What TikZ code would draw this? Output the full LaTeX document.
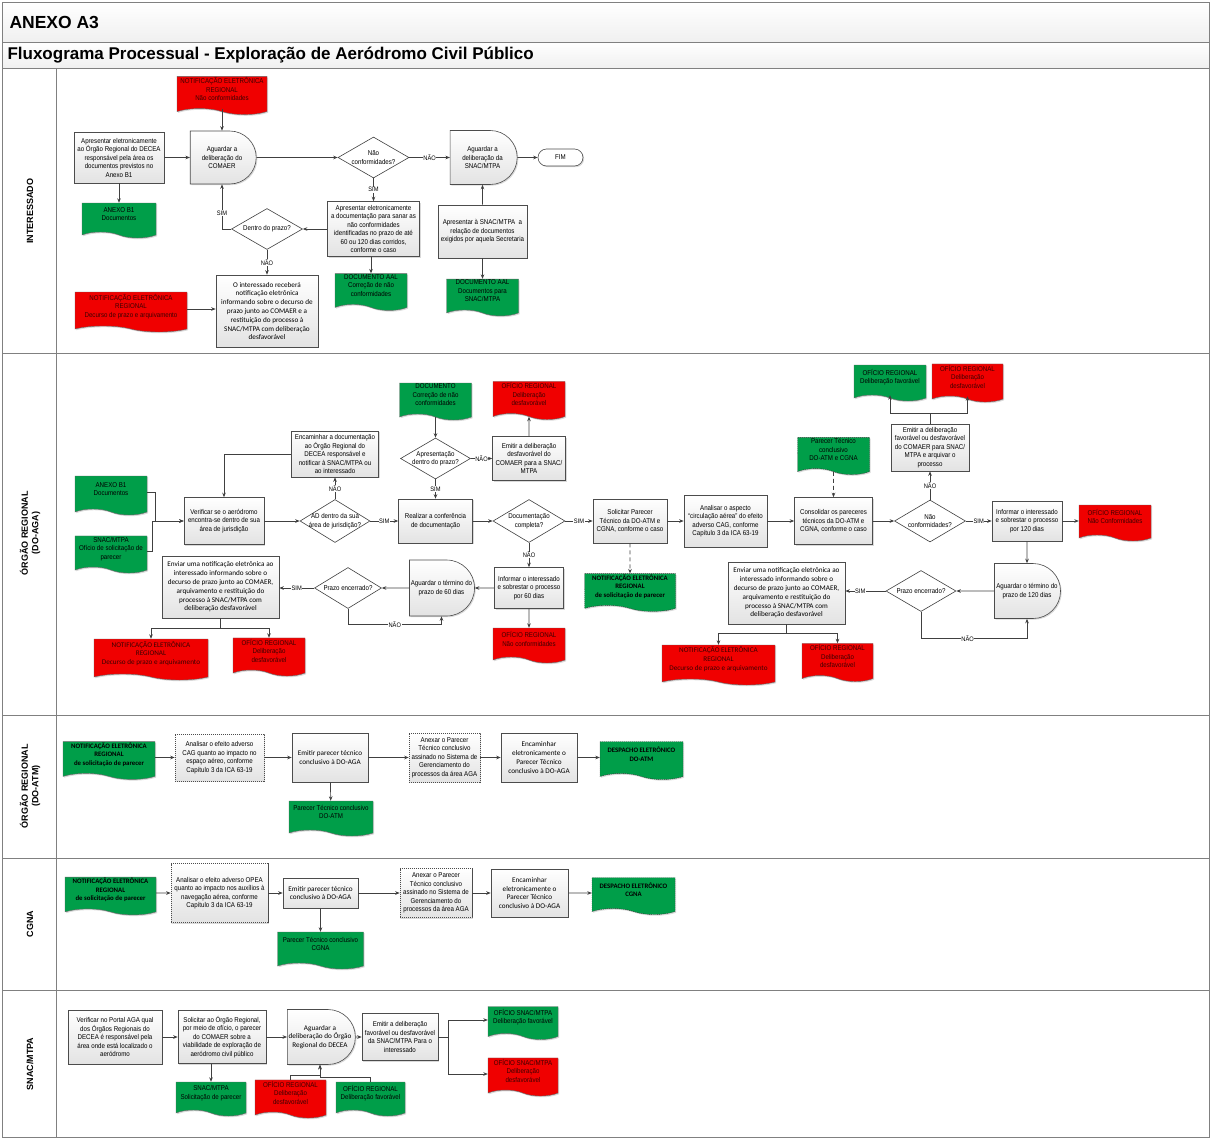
\documentclass[tikz,border=0pt]{standalone}
\usepackage{fontspec}
\setmainfont{Liberation Sans}[FakeStretch=0.88]
\newfontfamily\headfont{Liberation Sans}
\newfontfamily\calfont{Carlito}
\usetikzlibrary{arrows.meta, positioning, shapes.geometric, shapes.misc, shapes.symbols, shadows}

\definecolor{aalred}{RGB}{240,0,0}
\definecolor{aalgreen}{RGB}{0,158,73}
\definecolor{redtext}{RGB}{60,0,0}
\definecolor{linegray}{RGB}{64,64,64}
\definecolor{framegray}{RGB}{128,128,128}

\begin{document}
\begin{tikzpicture}[
    x=1pt, y=-1pt,
    >={Stealth[length=4.5pt, width=3.6pt]},
    sz/.style 2 args={minimum width=#1pt, minimum height=#2pt},
    txt/.style={font=\fontsize{7}{8.5}\selectfont, align=center, inner sep=1pt},
    cal/.style={font=\calfont\fontsize{7.2}{8.8}\selectfont},
    calb/.style={font=\calfont\bfseries\fontsize{6.8}{8.6}\selectfont},
    process/.style={txt, rectangle, draw=black!70, line width=0.6pt, top color=white, bottom color=gray!22,
      drop shadow={shadow xshift=1.2pt, shadow yshift=-1.2pt, opacity=.3}},
    processd/.style={process, dash pattern=on 1.2pt off 0.8pt},
    delay/.style={process, rounded rectangle, rounded rectangle left arc=none},
    terminal/.style={process, rounded rectangle, top color=white, bottom color=white},
    docshape/.style={txt, tape, tape bend top=none, tape bend bottom=out and in, tape bend height=6pt,
      text depth=7pt, draw=black!60, line width=0.4pt,
      drop shadow={shadow xshift=1.2pt, shadow yshift=-1.2pt, opacity=.3}},
    redoc/.style={docshape, fill=aalred, text=redtext},
    greendoc/.style={docshape, fill=aalgreen, text=black},
    greendocd/.style={greendoc, draw=black!80, dash pattern=on 1.2pt off 0.8pt},
    decision/.style={diamond, draw=black!75, line width=0.6pt, fill=white, inner sep=0pt},
    dtext/.style={txt, inner sep=0pt},
    flow/.style={->, draw=linegray, line width=0.7pt},
    yn/.style={font=\fontsize{6.5}{7}\selectfont, fill=white, inner sep=0.6pt},
    lane/.style={font=\headfont\bfseries\fontsize{9}{10.5}\selectfont, rotate=90, align=center},
    frame/.style={draw=framegray, line width=1pt}
  ]
  \useasboundingbox (0,0) rectangle (1211,1138);

  % Frame and lanes
  \fill[top color=white, bottom color=gray!12] (2,2) rectangle (1209,42);
  \fill[top color=white, bottom color=gray!12] (2,42) rectangle (1209,68);
  \draw[frame] (2,2) rectangle (1209,1137);
  \foreach \yy in {42,68,353,715,858,990}
    \draw[frame] (2,\yy) -- (1209,\yy);
  \draw[frame] (56,68) -- (56,1137);
  \node[anchor=west, font=\headfont\bfseries\fontsize{17.5}{19}\selectfont] (anexo) at (6,22) {ANEXO A3};
  \node[anchor=west, font=\headfont\bfseries\fontsize{17}{19}\selectfont] (titulo) at (4,55)
    {Fluxograma Processual - Exploração de Aeródromo Civil Público};
  \node[lane] (lane1) at (30,211) {INTERESSADO};
  \node[lane] (lane2) at (30,533) {ÓRGÃO REGIONAL\\(DO-AGA)};
  \node[lane] (lane3) at (30,786) {ÓRGÃO REGIONAL\\(DO-ATM)};
  \node[lane] (lane4) at (30,924) {CGNA};
  \node[lane] (lane5) at (30,1064) {SNAC/MTPA};

  % Interessado
  \node[redoc, sz={90}{35}] (a1notif) at (222,92.5) {NOTIFICAÇÃO ELETRÔNICA\\REGIONAL\\Não conformidades};
  \node[process, sz={90}{51}] (a1apres) at (119,157.5) {Apresentar eletronicamente\\ao Órgão Regional do DECEA\\responsável pela área os\\documentos previstos no\\Anexo B1};
  \node[delay, sz={68}{53}] (a1aguard) at (222,157.5) {Aguardar a\\deliberação do\\COMAER};
  \node[greendoc, sz={74}{35}] (a1anexo) at (119,217.5) {ANEXO B1\\Documentos};
  \node[decision, sz={71}{41}, label={[dtext]center:Dentro do prazo?}] (a1prazo) at (267,229) {};
  \node[process, cal, sz={102}{72}] (a1recebe) at (267,311) {O interessado receberá\\notificação eletrônica\\informando sobre o decurso de\\prazo junto ao COMAER e a\\restituição do processo à\\SNAC/MTPA com deliberação\\desfavorável};
  \node[redoc, sz={112}{40}] (a1decurso) at (131,309) {NOTIFICAÇÃO ELETRÔNICA\\REGIONAL\\Decurso de prazo e arquivamento};
  \node[decision, sz={71}{41}, label={[dtext]center:{Não\\conformidades?}}] (a1naoconf) at (373.5,157.5) {};
  \node[delay, sz={69}{54}] (a1aguardsnac) at (482.5,157.5) {Aguardar a\\deliberação da\\SNAC/MTPA};
  \node[terminal, sz={47}{17}] (a1fim) at (560.5,157.5) {FIM};
  \node[process, sz={92}{55}] (a1sanar) at (373.5,229) {Apresentar eletronicamente\\a documentação para sanar as\\não conformidades\\identificadas no prazo de até\\60 ou 120 dias corridos,\\conforme o caso};
  \node[greendoc, sz={72}{34}] (a1correc) at (371,289) {DOCUMENTO AAL\\Correção de não\\conformidades};
  \node[process, sz={89}{53}] (a1relacao) at (482.5,231.5) {Apresentar à SNAC/MTPA\ \ a\\relação de documentos\\exigidos por aquela Secretaria};
  \node[greendoc, sz={72}{35}] (a1docsnac) at (482.5,294.5) {DOCUMENTO AAL\\Documentos para\\SNAC/MTPA};

  \draw[flow] (a1notif.south) -- (a1aguard.north);
  \draw[flow] (a1apres) -- (a1aguard);
  \draw[flow] (a1apres) -- (a1anexo);
  \draw[flow] (a1aguard) -- (a1naoconf);
  \draw[flow] (a1naoconf) -- node[yn]{NÃO} (a1aguardsnac);
  \draw[flow] (a1aguardsnac) -- (a1fim);
  \draw[flow] (a1naoconf) -- node[yn]{SIM} (a1sanar);
  \draw[flow] (a1sanar) -- (a1prazo);
  \draw[flow] (a1correc.north |- a1sanar.south) -- (a1correc.north);
  \draw[flow] (a1prazo.west) -| node[yn, pos=.68]{SIM} (a1aguard.south);
  \draw[flow] (a1prazo) -- node[yn]{NÃO} (a1recebe);
  \draw[flow] (a1decurso.east) -- (a1decurso.east -| a1recebe.west);
  \draw[flow] (a1relacao) -- (a1aguardsnac);
  \draw[flow] (a1relacao) -- (a1docsnac);

  % Orgao Regional DO-AGA
  \node[greendoc, sz={72}{39}] (b2anexo) at (111,492.5) {ANEXO B1\\Documentos};
  \node[greendoc, sz={72}{37}] (b2snac) at (111,551.5) {SNAC/MTPA\\Ofício de solicitação de\\parecer};
  \node[process, sz={80}{47}] (b2verif) at (224,521) {Verificar se o aeródromo\\encontra-se dentro de sua\\área de jurisdição};
  \node[process, sz={87}{46}] (b2encam) at (335,454) {Encaminhar a documentação\\ao Órgão Regional do\\DECEA responsável e\\notificar à SNAC/MTPA ou\\ao interessado};
  \node[decision, sz={70}{43}, label={[dtext]center:{AD dentro da sua\\área de jurisdição?}}] (b2ad) at (335,521) {};
  \node[process, sz={74}{44}] (b2realiz) at (435.5,521) {Realizar a conferência\\de documentação};
  \node[greendoc, sz={72}{37}] (b2docum) at (435.5,398.5) {DOCUMENTO\\Correção de não\\conformidades};
  \node[decision, sz={70}{41}, label={[dtext]center:{Apresentação\\dentro do prazo?}}] (b2apres) at (435.5,458.5) {};
  \node[process, sz={73}{44}] (b2emitir) at (529,458.5) {Emitir a deliberação\\desfavorável do\\COMAER para a SNAC/\\MTPA};
  \node[redoc, sz={72}{35}] (b2ofdesf) at (529,397.5) {OFÍCIO REGIONAL\\Deliberação\\desfavorável};
  \node[decision, sz={72}{43}, label={[dtext]center:{Documentação\\completa?}}] (b2complet) at (529,521) {};
  \node[process, sz={69}{41}] (b2inf60) at (529,588) {Informar o interessado\\e sobrestar o processo\\por 60 dias};
  \node[redoc, sz={72}{35}] (b2ofnao) at (529,642.5) {OFÍCIO REGIONAL\\Não conformidades};
  \node[delay, sz={67}{56}] (b2ag60) at (441.5,588) {Aguardar o término do\\prazo de 60 dias};
  \node[decision, sz={67}{41}, label={[dtext]center:Prazo encerrado?}] (b2prazo) at (348,588) {};
  \node[process, cal, sz={117}{62}] (b2enviar) at (220.5,587) {Enviar uma notificação eletrônica ao\\interessado informando sobre o\\decurso de prazo junto ao COMAER,\\arquivamento e restituição do\\processo à SNAC/MTPA com\\deliberação desfavorável};
  \node[redoc, cal, sz={114}{41}] (b2notdec) at (151,656.5) {NOTIFICAÇÃO ELETRÔNICA\\REGIONAL\\Decurso de prazo e arquivamento};
  \node[redoc, sz={72}{36}] (b2ofdesf2) at (269,654) {OFÍCIO REGIONAL\\Deliberação\\desfavorável};
  \node[process, sz={74}{44}] (b2solic) at (630,521) {Solicitar Parecer\\Técnico da DO-ATM e\\CGNA, conforme o caso};
  \node[greendocd, calb, sz={91}{35}] (b2notsol) at (630,589.5) {NOTIFICAÇÃO ELETRÔNICA\\REGIONAL\\de solicitação de parecer};
  \node[process, sz={83}{52}] (b2analis) at (725.5,521) {Analisar o aspecto\\“circulação aérea” do efeito\\adverso CAG, conforme\\Capítulo 3 da ICA 63-19};
  \node[process, sz={78}{47}] (b2consol) at (833.5,521) {Consolidar os pareceres\\técnicos da DO-ATM e\\CGNA, conforme o caso};
  \node[process, cal, sz={117}{62}] (b2enviar2) at (786.5,593) {Enviar uma notificação eletrônica ao\\interessado informando sobre o\\decurso de prazo junto ao COMAER,\\arquivamento e restituição do\\processo à SNAC/MTPA com\\deliberação desfavorável};
  \node[redoc, cal, sz={113}{40}] (b2notdec2) at (718.5,662) {NOTIFICAÇÃO ELETRÔNICA\\REGIONAL\\Decurso de prazo e arquivamento};
  \node[redoc, sz={71}{35}] (b2ofdesf3) at (837.5,659.5) {OFÍCIO REGIONAL\\Deliberação\\desfavorável};
  \node[greendoc, sz={72}{36}] (b2offav) at (890,380) {OFÍCIO REGIONAL\\Deliberação favorável};
  \node[redoc, sz={71}{36}] (b2ofdesf4) at (967.5,380) {OFÍCIO REGIONAL\\Deliberação\\desfavorável};
  \node[process, sz={78}{47}] (b2emitfav) at (930,447.5) {Emitir a deliberação\\favorável ou desfavorável\\do COMAER para SNAC/\\MTPA e arquivar o\\processo};
  \node[greendocd, sz={72}{34}] (b2parecer) at (833.5,453) {Parecer Técnico\\conclusivo\\DO-ATM e CGNA};
  \node[decision, sz={71}{42}, label={[dtext]center:{Não\\conformidades?}}] (b2naoconf) at (930,521) {};
  \node[process, sz={70}{40}] (b2inf120) at (1027,521) {Informar o interessado\\e sobrestar o processo\\por 120 dias};
  \node[redoc, sz={72}{36}] (b2ofnao2) at (1115,520) {OFÍCIO REGIONAL\\Não Conformidades};
  \node[delay, sz={68}{55}] (b2ag120) at (1027,591) {Aguardar o término do\\prazo de 120 dias};
  \node[decision, sz={70}{41}, label={[dtext]center:Prazo encerrado?}] (b2prazo2) at (921,591) {};

  \draw[flow] (b2anexo.east) -- ++(8,0) |- (b2verif.west);
  \draw[flow] (b2snac.east) -- ++(5,0) |- (b2verif.west);
  \draw[flow] (b2verif) -- (b2ad);
  \draw[flow] (b2ad) -- node[yn]{NÃO} (b2encam);
  \draw[flow] (b2encam.west) -| (b2verif.north);
  \draw[flow] (b2ad) -- node[yn]{SIM} (b2realiz);
  \draw[flow] (b2docum) -- (b2apres);
  \draw[flow] (b2apres) -- node[yn]{SIM} (b2realiz);
  \draw[flow] (b2apres) -- node[yn]{NÃO} (b2emitir);
  \draw[flow] (b2emitir) -- (b2ofdesf);
  \draw[flow] (b2realiz) -- (b2complet);
  \draw[flow] (b2complet) -- node[yn]{SIM} (b2solic);
  \draw[flow] (b2complet) -- node[yn]{NÃO} (b2inf60);
  \draw[flow] (b2inf60) -- (b2ofnao);
  \draw[flow] (b2inf60) -- (b2ag60);
  \draw[flow] (b2ag60) -- (b2prazo);
  \draw[flow] (b2prazo.west) -- node[yn]{SIM} (b2prazo.west -| b2enviar.east);
  \draw[flow] (b2prazo.south) -- ++(0,16) -| node[yn, pos=.25]{NÃO} (b2ag60.south);
  \draw[flow] (b2enviar.south) -- ++(0,10) -| (b2notdec.north);
  \draw[flow] (b2enviar.south) -- ++(0,10) -| (b2ofdesf2.north);
  \draw[flow, dash pattern=on 4pt off 3pt] (b2solic) -- (b2notsol);
  \draw[flow] (b2solic) -- (b2analis);
  \draw[flow] (b2analis) -- (b2consol);
  \draw[flow, dash pattern=on 4pt off 3pt] (b2parecer) -- (b2consol);
  \draw[flow] (b2consol) -- (b2naoconf);
  \draw[flow] (b2naoconf) -- node[yn]{NÃO} (b2emitfav);
  \draw[flow] (b2emitfav.north) -- ++(0,-10) -| (b2offav.south);
  \draw[flow] (b2emitfav.north) -- ++(0,-10) -| (b2ofdesf4.south);
  \draw[flow] (b2naoconf) -- node[yn]{SIM} (b2inf120);
  \draw[flow] (b2inf120.east) -- (b2inf120.east -| b2ofnao2.west);
  \draw[flow] (b2inf120) -- (b2ag120);
  \draw[flow] (b2ag120) -- (b2prazo2);
  \draw[flow] (b2prazo2.west) -- node[yn, pos=.63]{SIM} (b2prazo2.west -| b2enviar2.east);
  \draw[flow] (b2prazo2.south) -- ++(0,26.5) -| node[yn, pos=.22]{NÃO} (b2ag120.south);
  \draw[flow] (b2enviar2.south) -- ++(0,9) -| (b2notdec2.north);
  \draw[flow] (b2enviar2.south) -- ++(0,9) -| (b2ofdesf3.north);

  % Orgao Regional DO-ATM
  \node[greendoc, calb, sz={92}{35}] (c3notif) at (109,757.5) {NOTIFICAÇÃO ELETRÔNICA\\REGIONAL\\de solicitação de parecer};
  \node[processd, sz={89}{47}] (c3analis) at (219.5,757.5) {Analisar o efeito adverso\\CAG quanto ao impacto no\\espaço aéreo, conforme\\Capítulo 3 da ICA 63-19};
  \node[process, cal, sz={76}{49}] (c3emitir) at (330,757.5) {Emitir parecer técnico\\conclusivo à DO-AGA};
  \node[greendoc, sz={84}{35}] (c3parecer) at (331,815.5) {Parecer Técnico conclusivo\\DO-ATM};
  \node[processd, sz={71}{49}] (c3anexar) at (444.5,757.5) {Anexar o Parecer\\Técnico conclusivo\\assinado no Sistema de\\Gerenciamento do\\processos da área AGA};
  \node[process, cal, sz={76}{49}] (c3encam) at (539,757.5) {Encaminhar\\eletronicamente o\\Parecer Técnico\\conclusivo à DO-AGA};
  \node[greendocd, calb, sz={83}{38}] (c3desp) at (641.5,757.5) {DESPACHO ELETRÔNICO\\DO-ATM};

  \draw[flow] (c3notif) -- (c3analis);
  \draw[flow] (c3analis) -- (c3emitir);
  \draw[flow] (c3emitir) -- (c3parecer);
  \draw[flow] (c3emitir) -- (c3anexar);
  \draw[flow] (c3anexar) -- (c3encam);
  \draw[flow] (c3encam) -- (c3desp);

  % CGNA
  \node[greendoc, calb, sz={91}{33}] (d4notif) at (110.5,893) {NOTIFICAÇÃO ELETRÔNICA\\REGIONAL\\de solicitação de parecer};
  \node[processd, sz={97}{59}] (d4analis) at (219.5,893) {Analisar o efeito adverso OPEA\\quanto ao impacto nos auxílios à\\navegação aérea, conforme\\Capítulo 3 da ICA 63-19};
  \node[process, cal, sz={75}{30}] (d4emitir) at (320.5,893) {Emitir parecer técnico\\conclusivo à DO-AGA};
  \node[greendoc, sz={86}{37}] (d4parecer) at (320.5,947.5) {Parecer Técnico conclusivo\\CGNA};
  \node[processd, sz={72}{49}] (d4anexar) at (436,893) {Anexar o Parecer\\Técnico conclusivo\\assinado no Sistema de\\Gerenciamento do\\processos da área AGA};
  \node[process, cal, sz={77}{48}] (d4encam) at (529.5,893) {Encaminhar\\eletronicamente o\\Parecer Técnico\\conclusivo à DO-AGA};
  \node[greendocd, calb, sz={83}{37}] (d4desp) at (633.5,893) {DESPACHO ELETRÔNICO\\CGNA};

  \draw[flow] (d4notif) -- (d4analis);
  \draw[flow] (d4analis) -- (d4emitir);
  \draw[flow] (d4emitir) -- (d4parecer);
  \draw[flow] (d4emitir) -- (d4anexar);
  \draw[flow] (d4anexar) -- (d4encam);
  \draw[flow] (d4encam) -- (d4desp);

  % SNAC/MTPA
  \node[process, sz={94}{54}] (e5verif) at (115,1037) {Verificar no Portal AGA qual\\dos Órgãos Regionais do\\DECEA é responsável pela\\área onde está localizado o\\aeródromo};
  \node[process, sz={88}{53}] (e5solic) at (222,1037) {Solicitar ao Órgão Regional,\\por meio de ofício, o parecer\\do COMAER sobre a\\viabilidade de exploração de\\aeródromo civil público};
  \node[delay, cal, sz={70}{55}] (e5aguard) at (320,1037) {Aguardar a\\deliberação do Órgão\\Regional do DECEA};
  \node[process, sz={76}{47}] (e5emitir) at (400,1037) {Emitir a deliberação\\favorável ou desfavorável\\da SNAC/MTPA Para o\\interessado};
  \node[greendoc, sz={70}{33}] (e5offav) at (523,1020) {OFÍCIO SNAC/MTPA\\Deliberação favorável};
  \node[redoc, sz={70}{36}] (e5ofdesf) at (523,1074) {OFÍCIO SNAC/MTPA\\Deliberação\\desfavorável};
  \node[greendoc, sz={70}{34}] (e5snacdoc) at (211,1096) {SNAC/MTPA\\Solicitação de parecer};
  \node[redoc, sz={71}{34}] (e5regdesf) at (290.5,1096) {OFÍCIO REGIONAL\\Deliberação\\desfavorável};
  \node[greendoc, sz={69}{34}] (e5regfav) at (370.5,1096) {OFÍCIO REGIONAL\\Deliberação favorável};

  \draw[flow] (e5verif) -- (e5solic);
  \draw[flow] (e5solic) -- (e5aguard);
  \draw[flow] (e5aguard) -- (e5emitir);
  \draw[flow] (e5emitir.east) -- ++(10,0) |- (e5offav.west);
  \draw[flow] (e5emitir.east) -- ++(10,0) |- (e5ofdesf.west);
  \draw[flow] (e5snacdoc.north |- e5solic.south) -- (e5snacdoc.north);
  \draw[flow] (e5regdesf.north) -- ++(0,-4) -| (e5aguard.south);
  \draw[flow] (e5regfav.north) -- ++(0,-4) -| (e5aguard.south);
\end{tikzpicture}
\end{document}
